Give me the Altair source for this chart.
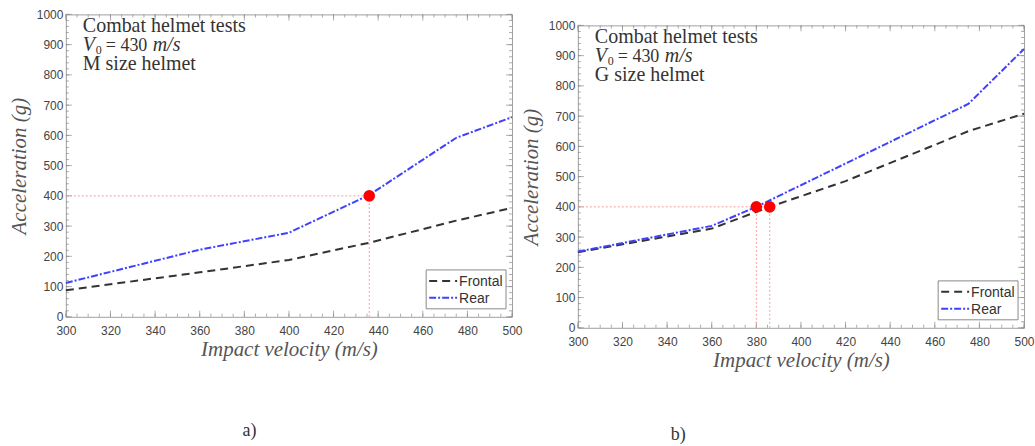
import altair as alt
import pandas as pd

# ---- data ----
series = ["Frontal", "Rear"]
x_ticks = list(range(300, 501, 20))
x_minor = list(range(300, 501, 5))
y_ticks = list(range(0, 1001, 100))
y_minor = list(range(0, 1001, 20))
target_acc = 400

# a) M size helmet
m_frontal_v = [300, 360, 400, 436, 475, 500]
m_frontal_a = [88, 147, 188, 245, 318, 360]
m_rear_v = [300, 360, 400, 436, 475, 500]
m_rear_a = [112, 222, 278, 403, 592, 660]
m_hits_v = [436]
m_hits_a = [400]

# b) G size helmet
g_frontal_v = [300, 360, 386, 420, 475, 500]
g_frontal_a = [250, 328, 400, 485, 650, 708]
g_rear_v = [300, 360, 380, 475, 500]
g_rear_a = [252, 337, 400, 740, 922]
g_hits_v = [380, 386]
g_hits_a = [400, 400]

W, H = 447, 303
SERIF = "Liberation Serif"
SANS = "Liberation Sans"
TICK = "#8a8a8a"

xscale = alt.Scale(domain=[300, 500], nice=False, zero=False)
yscale = alt.Scale(domain=[0, 1000], nice=False)
xaxis = alt.Axis(values=x_ticks, title="Impact velocity (m/s)", format="d", labelFlush=False)
yaxis = alt.Axis(values=y_ticks, title="Acceleration (g)", format="d", labelFlush=False)
color_scale = alt.Scale(domain=series, range=["#333333", "#4040ff"])
dash_scale = alt.Scale(domain=series, range=[[8, 5], [7, 2, 2, 2]])


def X(f):
    return alt.X(f, scale=xscale, axis=xaxis)


def Y(f):
    return alt.Y(f, scale=yscale, axis=yaxis)


def text_layer(txt, x, y, size=20, style="normal", baseline="alphabetic", font=SERIF, color="#333"):
    return alt.Chart(pd.DataFrame({"t": [txt]})).mark_text(
        font=font, fontSize=size, fontStyle=style, align="left",
        baseline=baseline, color=color
    ).encode(x=alt.value(x), y=alt.value(y), text="t:N")


def tick_layers():
    out = []
    for vals, ln in ((x_ticks, 6), (x_minor, 3)):
        df = pd.DataFrame({"v": vals})
        for yy in (H - ln / 2, ln / 2):
            out.append(alt.Chart(df).mark_tick(orient="vertical", color=TICK, thickness=1, size=ln)
                       .encode(x=X("v:Q"), y=alt.value(yy)))
    for vals, ln in ((y_ticks, 6), (y_minor, 3)):
        df = pd.DataFrame({"a": vals})
        for xx in (ln / 2, W - ln / 2):
            out.append(alt.Chart(df).mark_tick(orient="horizontal", color=TICK, thickness=1, size=ln)
                       .encode(y=Y("a:Q"), x=alt.value(xx)))
    return out


def legend_layers():
    box = alt.Chart(pd.DataFrame({"k": [0]})).mark_rect(
        fill="white", stroke="#8a8a8a", strokeWidth=1
    ).encode(x=alt.value(361), x2=alt.value(441), y=alt.value(256), y2=alt.value(295))
    out = [box]
    for i, s in enumerate(series):
        yy = 267 + 17 * i
        df = pd.DataFrame({"s": [s]})
        out.append(alt.Chart(df).mark_rule(strokeWidth=2).encode(
            x=alt.value(364), x2=alt.value(392), y=alt.value(yy),
            color=alt.Color("s:N", scale=color_scale, legend=None),
            strokeDash=alt.StrokeDash("s:N", scale=dash_scale, legend=None)))
        out.append(alt.Chart(df).mark_text(font=SANS, fontSize=14, color="#333", align="left",
                                           baseline="middle").encode(
            x=alt.value(394), y=alt.value(yy + 1), text="s:N"))
    return out


def panel(fv, fa, rv, ra, hv, ha, size_line, tag, tag_x, tag_y):
    lines = pd.DataFrame({
        "v": fv + rv,
        "a": fa + ra,
        "s": [series[0]] * len(fv) + [series[1]] * len(rv),
    })
    hits = pd.DataFrame({"v": hv, "a": ha})
    hline = pd.DataFrame({"v": [300], "v2": [max(hv)], "a": [target_acc]})
    vlines = pd.DataFrame({"v": hv, "a0": [0] * len(hv), "a": ha})

    guide_h = alt.Chart(hline).mark_rule(color="#ff9c9c", strokeDash=[2, 2], strokeWidth=1).encode(
        x=X("v:Q"), x2="v2:Q", y=Y("a:Q"))
    guide_v = alt.Chart(vlines).mark_rule(color="#ff9c9c", strokeDash=[2, 2], strokeWidth=1).encode(
        x=X("v:Q"), y=Y("a0:Q"), y2="a:Q")
    line = alt.Chart(lines).mark_line(strokeWidth=2).encode(
        x=X("v:Q"), y=Y("a:Q"),
        color=alt.Color("s:N", scale=color_scale, legend=None),
        strokeDash=alt.StrokeDash("s:N", scale=dash_scale, legend=None),
    )
    dots = alt.Chart(hits).mark_circle(color="#ff0000", opacity=1, size=135).encode(
        x=X("v:Q"), y=Y("a:Q"))

    texts = [
        text_layer("Combat helmet tests", 17, 18),
        text_layer("V", 17, 37, style="italic"),
        text_layer("0", 30, 40, size=12),
        text_layer("= 430", 40, 37, size=18),
        text_layer("m/s", 87, 37, style="italic"),
        text_layer(size_line, 17, 56),
        text_layer(tag, tag_x, tag_y, size=18, baseline="top"),
    ]
    return alt.layer(*tick_layers(), guide_h, guide_v, line, dots, *legend_layers(), *texts).properties(
        width=W, height=H)


left = panel(m_frontal_v, m_frontal_a, m_rear_v, m_rear_a, m_hits_v, m_hits_a,
             "M size helmet", "a)", 177, 408)
right = panel(g_frontal_v, g_frontal_a, g_rear_v, g_rear_a, g_hits_v, g_hits_a,
              "G size helmet", "b)", 93, 401)

spacer = alt.Chart(pd.DataFrame({"t": [""]})).mark_text(fontSize=1, baseline="top").encode(
    text="t:N", x=alt.value(0), y=alt.value(0)).properties(
    width=10, height=3, view=alt.ViewBackground(stroke="transparent"))

right_col = alt.vconcat(spacer, right, spacing=0)

chart = alt.hconcat(left, right_col, spacing=-4).properties(
    padding={"left": 7, "top": 7, "right": 0, "bottom": 0}
).configure_view(
    stroke="#a0a0a0", strokeWidth=1
).configure_axis(
    domain=False, ticks=False, grid=False,
    labelFont=SANS, labelFontSize=12, labelColor="#444",
    titleFont=SERIF, titleFontSize=21, titleFontStyle="italic", titleFontWeight="normal",
    titleColor="#555",
).configure_axisY(labelPadding=3, titlePadding=7).configure_axisX(labelPadding=9, titlePadding=2)

chart.save("out.html", embed_options={"renderer": "svg", "actions": False})
